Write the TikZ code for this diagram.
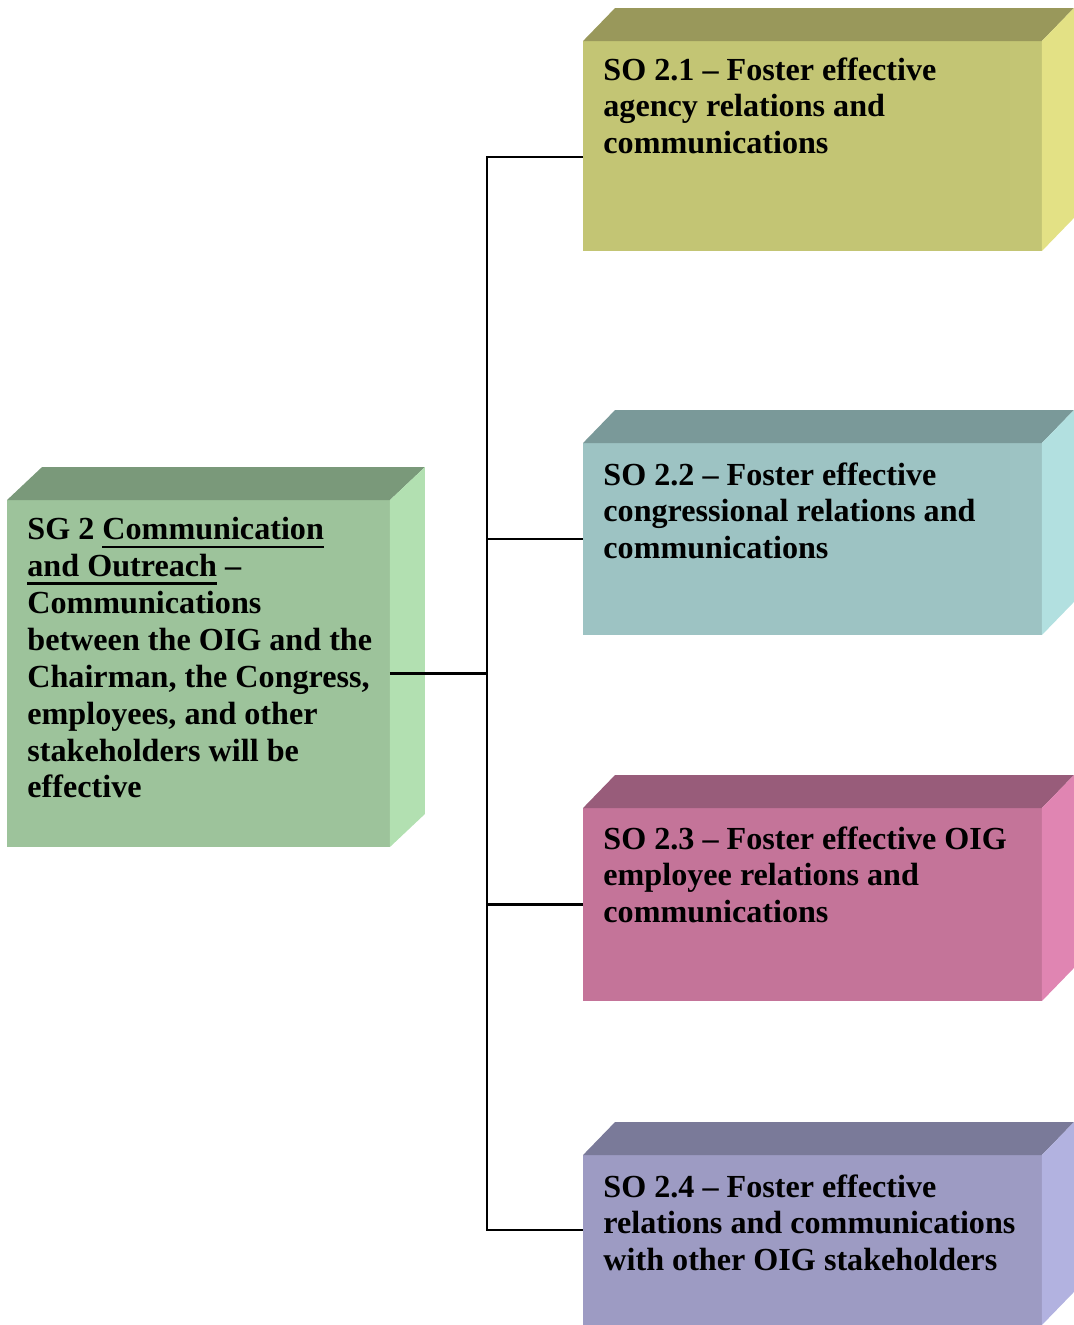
\documentclass[tikz,border=0pt]{standalone}
\usepackage{fontspec}
\setmainfont{Liberation Serif}
\usetikzlibrary{calc}

\definecolor{sgfront}{HTML}{9DC39B}
\definecolor{sgtop}{HTML}{7A997A}
\definecolor{sgside}{HTML}{B2E0B1}
\definecolor{sofrontA}{HTML}{C3C574}
\definecolor{sotopA}{HTML}{99985B}
\definecolor{sosideA}{HTML}{E3E185}
\definecolor{sofrontB}{HTML}{9DC3C3}
\definecolor{sotopB}{HTML}{7A9999}
\definecolor{sosideB}{HTML}{B2E0E0}
\definecolor{sofrontC}{HTML}{C47499}
\definecolor{sotopC}{HTML}{985C7A}
\definecolor{sosideC}{HTML}{E085B2}
\definecolor{sofrontD}{HTML}{9D9BC3}
\definecolor{sotopD}{HTML}{7A7A99}
\definecolor{sosideD}{HTML}{B2B2E0}

% thick underline as in the original
\newcommand{\ulthick}[1]{\setbox0\hbox{#1}\rlap{\rule[-5pt]{\wd0}{1.7pt}}\box0\relax}

\begin{document}
\begin{tikzpicture}[x=0.02cm, y=-0.02cm,
  face/.style={inner sep=0pt, outer sep=0pt},
  sobox/.style={face, minimum width=9.18cm},
  boxtext/.style={anchor=north west, inner sep=0pt, align=left,
    font=\fontsize{18.3}{21}\selectfont\bfseries},
  link/.style={line width=1.2pt}]
  \useasboundingbox (0,0) rectangle (1073,1325);

  % front faces
  \node[face, fill=sgfront, minimum width=7.66cm, minimum height=6.94cm] (fSG) at (198.5,673.5) {};
  \node[sobox, fill=sofrontA, minimum height=4.2cm] (fSO1) at (812.5,146) {};
  \node[sobox, fill=sofrontB, minimum height=3.84cm] (fSO2) at (812.5,539) {};
  \node[sobox, fill=sofrontC, minimum height=3.86cm] (fSO3) at (812.5,904.5) {};
  \node[sobox, fill=sofrontD, minimum height=3.4cm] (fSO4) at (812.5,1240) {};

  % top and side faces
  \fill[sgtop] (fSG.north west) -- ++(35,-33) -- ($(fSG.north east)+(35,-33)$) -- (fSG.north east) -- cycle;
  \fill[sgside] (fSG.north east) -- ++(35,-33) -- ($(fSG.south east)+(35,-33)$) -- (fSG.south east) -- cycle;
  \fill[sotopA] (fSO1.north west) -- ++(32,-33) -- ($(fSO1.north east)+(32,-33)$) -- (fSO1.north east) -- cycle;
  \fill[sosideA] (fSO1.north east) -- ++(32,-33) -- ($(fSO1.south east)+(32,-33)$) -- (fSO1.south east) -- cycle;
  \fill[sotopB] (fSO2.north west) -- ++(32,-33) -- ($(fSO2.north east)+(32,-33)$) -- (fSO2.north east) -- cycle;
  \fill[sosideB] (fSO2.north east) -- ++(32,-33) -- ($(fSO2.south east)+(32,-33)$) -- (fSO2.south east) -- cycle;
  \fill[sotopC] (fSO3.north west) -- ++(32,-33) -- ($(fSO3.north east)+(32,-33)$) -- (fSO3.north east) -- cycle;
  \fill[sosideC] (fSO3.north east) -- ++(32,-33) -- ($(fSO3.south east)+(32,-33)$) -- (fSO3.south east) -- cycle;
  \fill[sotopD] (fSO4.north west) -- ++(32,-33) -- ($(fSO4.north east)+(32,-33)$) -- (fSO4.north east) -- cycle;
  \fill[sosideD] (fSO4.north east) -- ++(32,-33) -- ($(fSO4.south east)+(32,-33)$) -- (fSO4.south east) -- cycle;

  % texts
  \node[boxtext] (tSG) at ([shift={(20,17)}]fSG.north west)
    {SG 2 \ulthick{Communication}\\\ulthick{and Outreach} –\\Communications\\between the OIG and the\\Chairman, the Congress,\\employees, and other\\stakeholders will be\\effective};
  \node[boxtext] (tSO1) at ([shift={(20,16)}]fSO1.north west)
    {SO 2.1 – Foster effective\\agency relations and\\communications};
  \node[boxtext] (tSO2) at ([shift={(20,19)}]fSO2.north west)
    {SO 2.2 – Foster effective\\congressional relations and\\communications};
  \node[boxtext] (tSO3) at ([shift={(20,18)}]fSO3.north west)
    {SO 2.3 – Foster effective OIG\\employee relations and\\communications};
  \node[boxtext] (tSO4) at ([shift={(20,19)}]fSO4.north west)
    {SO 2.4 – Foster effective\\relations and communications\\with other OIG stakeholders};

  % connectors
  \coordinate (bus) at (487,675);
  \draw[link] (fSG.east) -- (fSG.east -| bus);
  \draw[link] ([yshift=-0.22cm]fSO1.west) -| (bus) |- ([yshift=0.2cm]fSO4.west);
  \draw[link] (bus |- fSO2.west) -- (fSO2.west);
  \draw[link] (bus |- fSO3.west) -- (fSO3.west);
\end{tikzpicture}
\end{document}
